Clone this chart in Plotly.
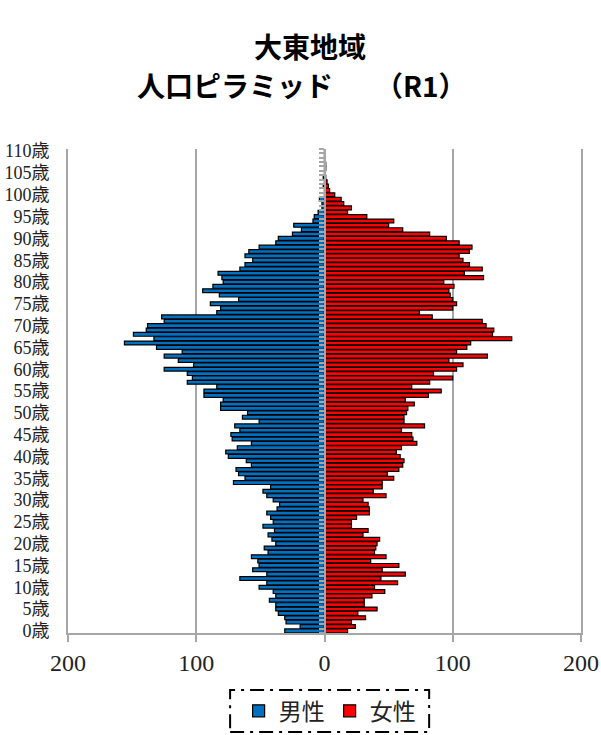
import plotly.graph_objects as go

# Population by single year of age (0..110)
ages = list(range(0, 111))

male = [31, 19, 30, 31, 36, 38, 38, 43, 38, 40,
        51, 45, 66, 45, 56, 51, 52, 57, 44, 47,
        38, 41, 44, 39, 48, 40, 42, 45, 37, 35,
        40, 45, 48, 42, 71, 62, 67, 69, 57, 61,
        75, 77, 68, 57, 72, 73, 66, 70, 51, 64,
        60, 81, 81, 79, 94, 94, 84, 107, 103, 107,
        125, 102, 114, 125, 111, 131, 156, 133, 149, 139,
        138, 125, 127, 84, 81, 89, 67, 82, 95, 87,
        79, 80, 83, 66, 62, 56, 62, 59, 51, 38,
        36, 25, 18, 24, 9, 8, 5, 2, 2, 4,
        0, 0, 1, 0, 1, 0, 0, 0, 0, 0, 0]

female = [18, 24, 21, 32, 26, 41, 31, 31, 37, 47,
          39, 57, 44, 63, 45, 58, 36, 48, 39, 40,
          41, 43, 30, 34, 21, 21, 25, 35, 35, 34,
          30, 48, 38, 45, 45, 54, 49, 58, 61, 62,
          59, 56, 60, 72, 69, 68, 60, 78, 62, 62,
          64, 65, 70, 63, 81, 91, 68, 82, 100, 85,
          103, 108, 97, 127, 103, 111, 114, 146, 131, 132,
          126, 123, 84, 74, 100, 103, 100, 98, 97, 101,
          93, 124, 109, 123, 113, 108, 105, 113, 115, 105,
          95, 82, 61, 50, 54, 33, 18, 21, 15, 13,
          8, 4, 3, 2, 1, 0, 1, 1, 0, 0, 0]

age_ticks = list(range(0, 111, 5))
age_labels = [f"{a}歳" for a in age_ticks]
x_ticks = [-200, -100, 0, 100, 200]
x_labels = ["200", "100", "0", "100", "200"]

title_line1 = "大東地域"
title_line2 = "人口ピラミッド　　（R1）"

MALE_COLOR = "#0070C0"
FEMALE_COLOR = "#FF0000"
GRID = "#a6a6a6"
SERIF = "Liberation Serif, Noto Sans CJK JP, serif"
GOTHIC = "Noto Sans CJK JP, sans-serif"

fig = go.Figure()
fig.add_trace(go.Bar(
    name="男性", y=ages, x=[-v for v in male], orientation="h",
    customdata=male, hovertemplate="%{y}歳: %{customdata}<extra>男性</extra>",
    marker=dict(color=MALE_COLOR, line=dict(color="black", width=1.2)),
))
fig.add_trace(go.Bar(
    name="女性", y=ages, x=female, orientation="h", yaxis="y2",
    hovertemplate="%{y}歳: %{x}<extra>女性</extra>",
    marker=dict(color=FEMALE_COLOR, line=dict(color="black", width=1.2)),
))

yrange = [ages[0] - 0.5, ages[-1] + 0.5]

fig.update_layout(
    width=601, height=735,
    margin=dict(l=68, r=20, t=149, b=102, autoexpand=False),
    paper_bgcolor="white", plot_bgcolor="white",
    barmode="overlay", bargap=0.12,
    showlegend=True,
    legend=dict(
        orientation="h", x=0.51, xanchor="center", y=-0.161, yanchor="middle",
        font=dict(family=SERIF, size=23, color="#222"),
        bgcolor="rgba(0,0,0,0)", itemclick=False,
    ),
    xaxis=dict(
        range=[-200, 200], tickvals=x_ticks, ticktext=x_labels,
        showgrid=True, gridcolor=GRID, gridwidth=2,
        zeroline=False, showline=True, linecolor=GRID, linewidth=2,
        ticks="outside", ticklen=7, tickwidth=2, tickcolor=GRID,
        tickfont=dict(family=SERIF, size=24, color="#222"),
        automargin=False, fixedrange=True,
    ),
    yaxis=dict(
        range=yrange, tickvals=age_ticks, ticktext=age_labels,
        showgrid=False, zeroline=False,
        showline=True, mirror=True, linecolor=GRID, linewidth=2,
        ticks="", ticklabelstandoff=13,
        tickfont=dict(family=SERIF, size=18, color="#222"),
        automargin=False, fixedrange=True,
    ),
    yaxis2=dict(
        range=yrange, overlaying="y", anchor="free", position=0.5, side="left",
        tickvals=[a - 0.5 for a in ages] + [ages[-1] + 0.5],
        showticklabels=False, showgrid=False, zeroline=False,
        showline=True, linecolor=GRID, linewidth=2,
        ticks="outside", ticklen=5, tickwidth=1.5, tickcolor=GRID,
        automargin=False, fixedrange=True,
    ),
    annotations=[
        dict(text=f"<b>{title_line1}</b>", xref="paper", yref="paper",
             x=0.472, y=1.213, xanchor="center", yanchor="middle", showarrow=False,
             font=dict(family=GOTHIC, size=28, color="black")),
        dict(text=f"<b>{title_line2}</b>", xref="paper", yref="paper",
             x=0.456, y=1.132, xanchor="center", yanchor="middle", showarrow=False,
             font=dict(family=GOTHIC, size=28, color="black")),
    ],
    shapes=[
        dict(type="rect", xref="paper", yref="paper",
             x0=0.316, x1=0.704, y0=-0.2045, y1=-0.118,
             line=dict(color="black", width=2, dash="14px,6px,3px,6px"),
             fillcolor="rgba(0,0,0,0)", layer="above"),
    ],
)

fig.write_html("out.html")
